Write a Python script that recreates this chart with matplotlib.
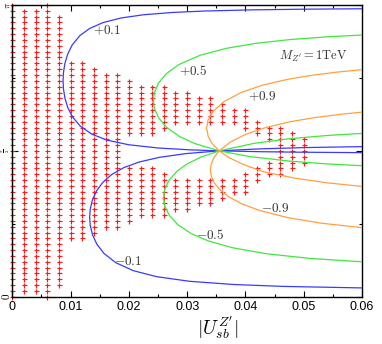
import matplotlib
matplotlib.use("Agg")
import matplotlib.pyplot as plt
from matplotlib.ticker import MultipleLocator, FixedLocator

plt.rcParams['mathtext.fontset'] = 'cm'
plt.rcParams['font.family'] = ['Liberation Sans', 'DejaVu Sans']

# ---- scan points: columns in |U_sb|, rows in units of pi/50 ----
col_x = [0.000, 0.002, 0.004, 0.006, 0.008, 0.010, 0.012, 0.014, 0.016,
         0.018, 0.020, 0.022, 0.024, 0.026, 0.028, 0.030, 0.032, 0.034,
         0.036, 0.038, 0.040, 0.042, 0.044, 0.046, 0.048, 0.050]
row_ranges = [
    [(0, 50)], [(1, 49)], [(1, 49)], [(0, 50)], [(2, 48)],
    [(10, 40)], [(10, 40)], [(11, 39)], [(12, 38)], [(12, 38)],
    [(13, 22), (28, 37)], [(14, 22), (28, 36)], [(14, 22), (28, 36)],
    [(14, 21), (29, 36)], [(15, 20), (30, 35)], [(15, 20), (30, 35)],
    [(16, 20), (30, 34)], [(16, 20), (30, 34)], [(17, 20), (30, 33)],
    [(18, 20), (30, 32)], [(18, 21), (29, 32)], [(20, 22), (28, 30)],
    [(21, 23), (27, 29)], [(21, 29)], [(22, 28)], [(23, 27)],
]
row_step = 1 / 50.0

# ---- contour curves (x, phase/pi) ----
c_p01_x = [0.0600, 0.05029, 0.04107, 0.03294, 0.02757, 0.02253, 0.01864, 0.01553,
           0.01321, 0.01159, 0.01028, 0.009495, 0.009022, 0.008774, 0.008710,
           0.008781, 0.009037, 0.009521, 0.010326, 0.011664, 0.013616, 0.016245,
           0.019960, 0.02501, 0.03051, 0.0355, 0.04272, 0.04901, 0.0600]
c_p01_y = [0.98707, 0.98565, 0.98326, 0.97928, 0.97450, 0.96655, 0.95541, 0.93949,
           0.91880, 0.89493, 0.86310, 0.83127, 0.79943, 0.76760, 0.74042,
           0.71190, 0.68007, 0.64824, 0.61641, 0.58458, 0.55752, 0.53683,
           0.52091, 0.50977, 0.50341, 0.5, 0.49704, 0.49545, 0.49378]

c_m01_x = [0.0600, 0.05017, 0.04200, 0.0355, 0.02977, 0.02524, 0.02179, 0.01916,
           0.01706, 0.01552, 0.014465, 0.013744, 0.013367, 0.013269, 0.013377,
           0.013767, 0.014505, 0.015731, 0.017769, 0.020743, 0.024748, 0.030408,
           0.03810, 0.04648, 0.0600]
c_m01_y = [0.51452, 0.51117, 0.50639, 0.5, 0.49048, 0.47775, 0.46183, 0.44273,
           0.41886, 0.39180, 0.36316, 0.33132, 0.29949, 0.27231, 0.24379,
           0.21196, 0.18013, 0.14830, 0.11647, 0.08941, 0.06872, 0.05280,
           0.04166, 0.03530, 0.03009]

c_p05_x = [0.0600, 0.05431, 0.04775, 0.04192, 0.03671, 0.03222, 0.02858, 0.02639,
           0.02508, 0.02439, 0.024208, 0.02440, 0.02512, 0.02646, 0.02870,
           0.03129, 0.0355, 0.04070, 0.04760, 0.05410, 0.0600]
c_p05_y = [0.89700, 0.89120, 0.88165, 0.86892, 0.85141, 0.82754, 0.79571, 0.76388,
           0.73204, 0.70021, 0.67303, 0.64451, 0.61268, 0.58085, 0.54902,
           0.52514, 0.5, 0.48058, 0.46466, 0.45511, 0.44905]

c_m05_x = [0.0600, 0.05434, 0.04773, 0.04158, 0.0355, 0.03233, 0.02994, 0.02829,
           0.02688, 0.02614, 0.025947, 0.02616, 0.02692, 0.02836, 0.03076,
           0.03354, 0.03776, 0.04362, 0.05102, 0.0600]
c_m05_y = [0.55976, 0.55309, 0.54195, 0.52604, 0.5, 0.47829, 0.45442, 0.43055,
           0.39871, 0.36688, 0.33970, 0.31118, 0.27935, 0.24752, 0.21569,
           0.19181, 0.16794, 0.14725, 0.13133, 0.11964]

c_p09_x = [0.0600, 0.05617, 0.05163, 0.04729, 0.04285, 0.03936, 0.03634, 0.03453,
           0.03358, 0.033336, 0.03361, 0.03427, 0.0355, 0.03708, 0.03952,
           0.04309, 0.04852, 0.05396, 0.0600]
c_p09_y = [0.77819, 0.77084, 0.75970, 0.74538, 0.72469, 0.70082, 0.66899, 0.63715,
           0.60532, 0.57814, 0.54962, 0.52575, 0.5, 0.47800, 0.45413,
           0.42825, 0.40638, 0.39046, 0.37809]

c_m09_x = [0.0600, 0.05652, 0.05207, 0.04780, 0.04369, 0.04013, 0.03742, 0.0355,
           0.03462, 0.03411, 0.033986, 0.03413, 0.03466, 0.03564, 0.03715,
           0.03936, 0.04256, 0.04734, 0.05313, 0.0600]
c_m09_y = [0.63260, 0.62570, 0.61456, 0.60024, 0.58114, 0.55727, 0.53021, 0.5,
           0.47769, 0.45382, 0.43459, 0.41403, 0.39016, 0.36628, 0.34241,
           0.31853, 0.29466, 0.27079, 0.25169, 0.23658]

labels = ['$+0.1$', '$+0.5$', '$+0.9$', '$-0.1$', '$-0.5$', '$-0.9$']
label_x = [0.0163, 0.0310, 0.0429, 0.0198, 0.0340, 0.0452]
label_y = [0.911, 0.774, 0.686, 0.122, 0.213, 0.304]

x_ticks = [0, 0.01, 0.02, 0.03, 0.04, 0.05, 0.06]
x_ticklabels = ['0', '0.01', '0.02', '0.03', '0.04', '0.05', '0.06']
y_ticks = [0, 0.5, 1]
y_ticklabels = ['$0$', r'$\frac{\pi}{2}$', r'$\pi$']
y_ticksizes = [8, 5, 6.5]

fig = plt.figure(figsize=(3.82, 3.44), dpi=100)
ax = fig.add_axes([0.0322, 0.1375, 0.9154, 0.848])

# scan points
px, py = [], []
for xc, ranges in zip(col_x, row_ranges):
    for lo, hi in ranges:
        for k in range(lo, hi + 1):
            px.append(xc)
            py.append(k * row_step)
ax.plot(px, py, linestyle='none', marker='+', ms=3.6, mew=0.85,
        color='#ff1a1a', zorder=2, clip_on=False)

blue, green, orange = '#3a3aff', '#3ee83e', '#ffa040'
for xs, ys, col in [(c_p01_x, c_p01_y, blue), (c_m01_x, c_m01_y, blue),
                    (c_p05_x, c_p05_y, green), (c_m05_x, c_m05_y, green),
                    (c_p09_x, c_p09_y, orange), (c_m09_x, c_m09_y, orange)]:
    ax.plot(xs, ys, color=col, lw=0.9, zorder=3)

for t, lx, ly in zip(labels, label_x, label_y):
    ax.text(lx, ly, t, fontsize=9.5, color='#333333', ha='center', va='center')
ax.text(0.0516, 0.825, r"$M_{Z^\prime}=1\mathrm{TeV}$", fontsize=9, color='#333333',
        ha='center', va='center')

ax.set_xlim(0, 0.06)
ax.set_ylim(0, 1)
ax.set_xticks(x_ticks)
ax.set_xticklabels(x_ticklabels, fontsize=9)
ax.xaxis.set_minor_locator(MultipleLocator(0.005))
ax.set_yticks(y_ticks)
ax.set_yticklabels(y_ticklabels, rotation=90, va='center')
for lab, fs in zip(ax.get_yticklabels(), y_ticksizes):
    lab.set_fontsize(fs)
ax.yaxis.set_minor_locator(FixedLocator([0.25, 0.75]))
ax.tick_params(which='both', direction='in', top=True, right=True, width=0.8)
ax.tick_params(which='major', length=4, pad=3)
ax.tick_params(which='minor', length=2)
ax.tick_params(axis='y', pad=0.3)
for s in ax.spines.values():
    s.set_linewidth(1.0)

ax.set_xlabel(r"$|U_{sb}^{Z^\prime}|$", fontsize=14, labelpad=2)
ax.xaxis.set_label_coords(0.588, -0.058)

fig.savefig('out.png', dpi=100)
